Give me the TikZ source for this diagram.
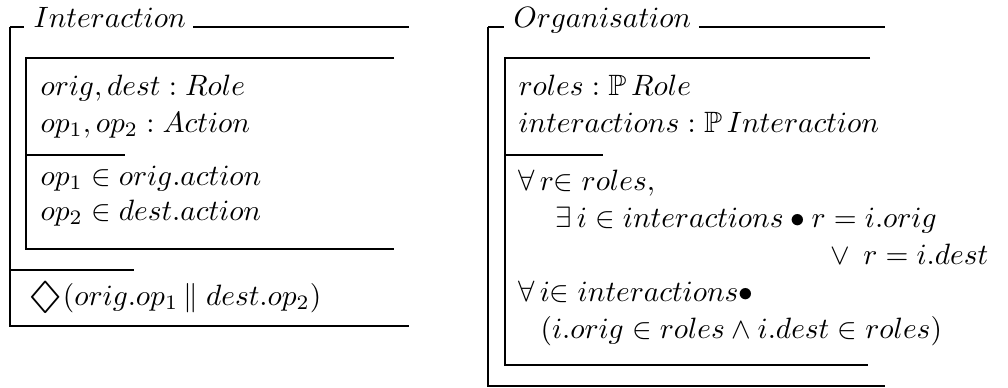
\documentclass[tikz,border=0pt]{standalone}
\usepackage{amssymb}
\usepackage{tikz}

\newcommand{\zdiam}{\mathord{\vcenter{\hbox{\scalebox{1.75}[1.3]{$\Diamond$}}}}}

\begin{document}
\begin{tikzpicture}[x=0.34pt,y=-0.34pt,
  zline/.style={line width=0.45pt},
  ztext/.style={anchor=base west,inner sep=0pt}]
\useasboundingbox (0,0) rectangle (1008,387);
% Interaction schema
\node[ztext] (ititle) at (33,27) {$Interaction$};
\draw[zline] (10,27) -- (24,27);
\draw[zline] (ititle.base east) ++(7,0) -- (409,27);
\draw[zline] (10,27) -- (10,326) -- (409,326);
\draw[zline] (10,270) -- (134,270);
\draw[zline] (394,58) -- (26,58) -- (26,249) -- (394,249);
\draw[zline] (26,155) -- (125,155);
\node[ztext] (idecl1) at (40,95) {$orig, dest : Role$};
\node[ztext] (idecl2) at (40,132) {$op_1, op_2 : Action$};
\node[ztext] (ipred1) at (40,185) {$op_1 \in orig.action$};
\node[ztext] (ipred2) at (40,220) {$op_2 \in dest.action$};
\node[ztext] (iprop) at (28,305) {$\zdiam(orig.op_1\,\|\;dest.op_2)$};
% Organisation schema
\node[ztext] (otitle) at (513,27) {$Organisation$};
\draw[zline] (488,27) -- (504,27);
\draw[zline] (otitle.base east) ++(7,0) -- (885,27);
\draw[zline] (488,27) -- (488,386) -- (885,386);
\draw[zline] (870,58) -- (505,58) -- (505,365) -- (868,365);
\draw[zline] (505,155) -- (603,155);
\node[ztext] (odecl1) at (518,95) {$roles : \mathbb{P}\,Role$};
\node[ztext] (odecl2) at (518,132) {$interactions : \mathbb{P}\,Interaction$};
\node[ztext] (opred1) at (518,190) {$\forall\, r{\in}\; roles,$};
\node[ztext] (opred2) at (555,227) {$\exists\, i \in interactions \bullet r = i.orig$};
\node[ztext] (opred3) at (830,264) {$\lor\;\, r = i.dest$};
\node[ztext] (opred4) at (518,301) {$\forall\, i{\in}\; interactions\bullet$};
\node[ztext] (opred5) at (540,338) {$(i.orig \in roles \land i.dest \in roles)$};
\end{tikzpicture}
\end{document}
